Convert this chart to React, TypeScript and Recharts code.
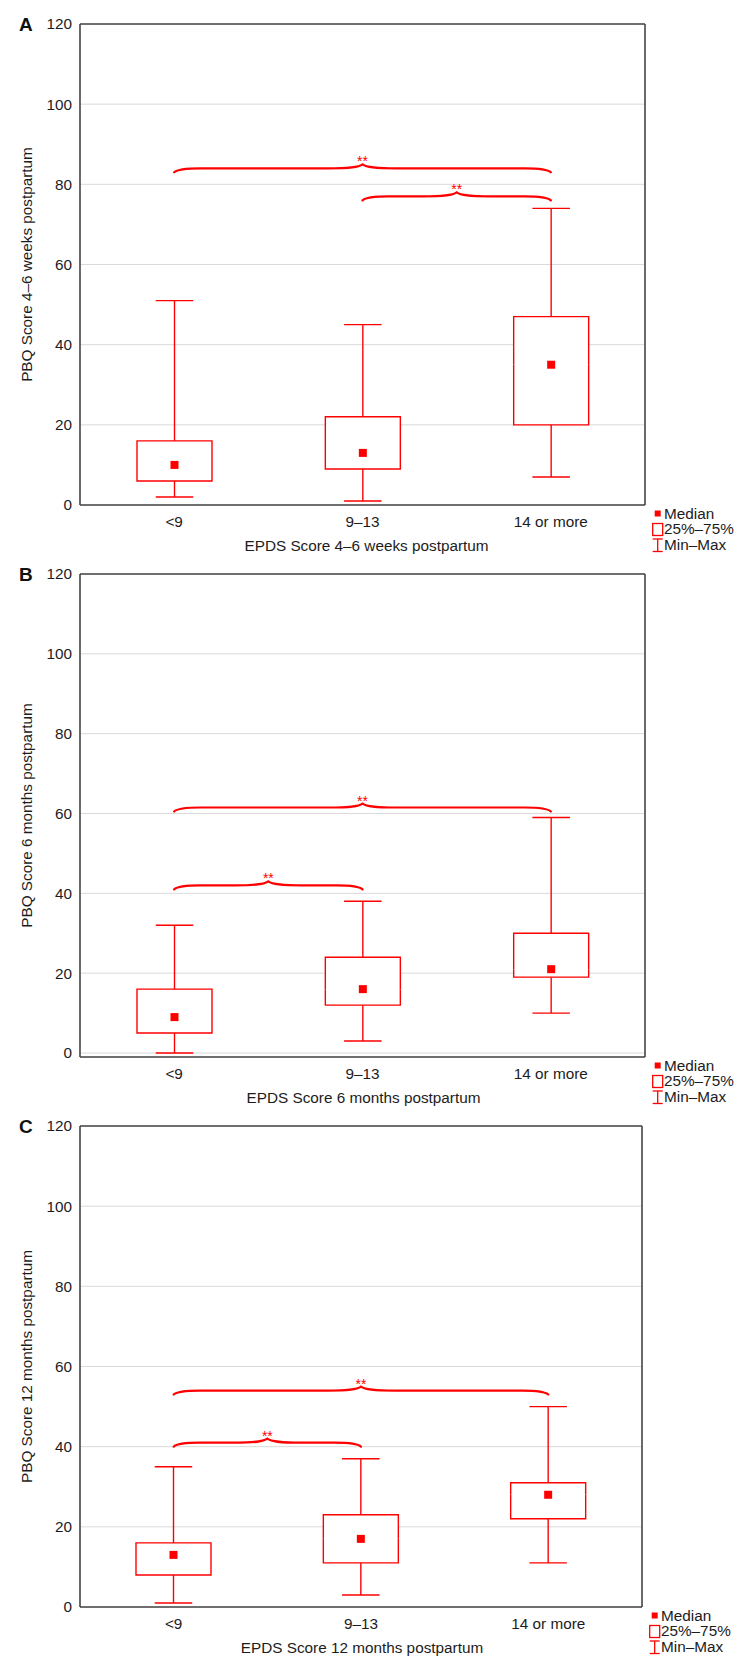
import React from 'react';
import { ComposedChart, Bar, XAxis, YAxis, CartesianGrid, ReferenceLine } from 'recharts';

const groups = ['<9', '9–13', '14 or more'];
const yTicks = [0, 20, 40, 60, 80, 100, 120];

// PBQ at 4–6 weeks postpartum, by EPDS group
const minA = [2, 1, 7];
const q1A = [6, 9, 20];
const medianA = [10, 13, 35];
const q3A = [16, 22, 47];
const maxA = [51, 45, 74];

// PBQ at 6 months postpartum
const minB = [0, 3, 10];
const q1B = [5, 12, 19];
const medianB = [9, 16, 21];
const q3B = [16, 24, 30];
const maxB = [32, 38, 59];

// PBQ at 12 months postpartum
const minC = [1, 3, 11];
const q1C = [8, 11, 22];
const medianC = [13, 17, 28];
const q3C = [16, 23, 31];
const maxC = [35, 37, 50];

// pairwise comparisons marked ** (level = score where the brace sits)
const sigA = [
  { from: '<9', to: '14 or more', level: 84 },
  { from: '9–13', to: '14 or more', level: 77 },
];
const sigB = [
  { from: '<9', to: '14 or more', level: 61.5 },
  { from: '<9', to: '9–13', level: 42 },
];
const sigC = [
  { from: '<9', to: '14 or more', level: 54 },
  { from: '<9', to: '9–13', level: 41 },
];

const RED = '#ff0000';
const INK = '#1c1c1c';
const FRAME = '#444444';
const GRID = '#dadada';
const FONT = '"Liberation Sans", Arial, Helvetica, sans-serif';
const CHART_W = 748;
const X_AXIS_H = 30;

type Row = {
  group: string;
  base: number;
  lowerWhisker: number;
  lowerBox: number;
  upperBox: number;
  upperWhisker: number;
};

type Sig = { from: string; to: string; level: number };

// stacked segments: min | min..q1 | q1..median | median..q3 | q3..max
const buildRows = (mins: number[], q1s: number[], medians: number[], q3s: number[], maxs: number[]): Row[] =>
  groups.map((group, i) => ({
    group,
    base: mins[i],
    lowerWhisker: q1s[i] - mins[i],
    lowerBox: medians[i] - q1s[i],
    upperBox: q3s[i] - medians[i],
    upperWhisker: maxs[i] - q3s[i],
  }));

const EmptyShape = () => <g />;

const LowerWhisker = (p: any) => {
  const cx = p.x + p.width / 2;
  const bottom = p.y + p.height;
  return (
    <g stroke={RED} strokeWidth={1.4}>
      <line x1={cx} x2={cx} y1={p.y} y2={bottom} />
      <line x1={cx - p.width / 4} x2={cx + p.width / 4} y1={bottom} y2={bottom} />
    </g>
  );
};

const UpperWhisker = (p: any) => {
  const cx = p.x + p.width / 2;
  return (
    <g stroke={RED} strokeWidth={1.4}>
      <line x1={cx} x2={cx} y1={p.y} y2={p.y + p.height} />
      <line x1={cx - p.width / 4} x2={cx + p.width / 4} y1={p.y} y2={p.y} />
    </g>
  );
};

// lower half of the box, open at the median
const LowerBox = (p: any) => {
  const { x, y, width: w, height: h } = p;
  return (
    <g>
      <rect x={x} y={y} width={w} height={h} fill="#fff" />
      <path d={`M${x},${y} L${x},${y + h} L${x + w},${y + h} L${x + w},${y}`} fill="none" stroke={RED} strokeWidth={1.4} />
    </g>
  );
};

// upper half of the box plus the median marker on its lower edge
const UpperBox = (p: any) => {
  const { x, y, width: w, height: h } = p;
  const cx = x + w / 2;
  return (
    <g>
      <rect x={x} y={y} width={w} height={h} fill="#fff" />
      <path d={`M${x},${y + h} L${x},${y} L${x + w},${y} L${x + w},${y + h}`} fill="none" stroke={RED} strokeWidth={1.4} />
      <rect x={cx - 4} y={y + h - 4} width={8} height={8} fill={RED} />
    </g>
  );
};

// curly brace between two group centres with the significance stars on top
const Brace = (p: any) => {
  const x1 = Math.min(p.x1, p.x2);
  const x2 = Math.max(p.x1, p.x2);
  const y = p.y1;
  const m = (x1 + x2) / 2;
  const d = [
    `M${x1},${y + 4}`,
    `C${x1 + 3},${y + 1} ${x1 + 10},${y} ${x1 + 26},${y}`,
    `L${m - 34},${y}`,
    `C${m - 12},${y} ${m - 4},${y - 1} ${m},${y - 4}`,
    `C${m + 4},${y - 1} ${m + 12},${y} ${m + 34},${y}`,
    `L${x2 - 26},${y}`,
    `C${x2 - 10},${y} ${x2 - 3},${y + 1} ${x2},${y + 4}`,
  ].join(' ');
  return (
    <g>
      <path d={d} fill="none" stroke={RED} strokeWidth={2.2} strokeLinecap="round" />
      <text x={m} y={y - 2} textAnchor="middle" fontSize={14} fill={RED} fontFamily={FONT}>
        **
      </text>
    </g>
  );
};

type PanelProps = {
  letter: string;
  yTitle: string;
  xTitle: string;
  rows: Row[];
  sig: Sig[];
  top: number;
  height: number;
  margin: { top: number; right: number; bottom: number; left: number };
  yDomain: [number, number];
  xTitleShift: number;
};

const Panel = ({ letter, yTitle, xTitle, rows, sig, top, height, margin, yDomain, xTitleShift }: PanelProps) => {
  const plotBottom = height - margin.bottom - X_AXIS_H;
  const plotRight = CHART_W - margin.right;
  const plotMid = margin.top + (plotBottom - margin.top) / 2;
  const lx = plotRight + 12.7;
  const tx = plotRight + 19;
  const r1 = plotBottom + 8.5;
  const r2 = plotBottom + 24;
  const r3 = plotBottom + 39.5;

  const renderYTitle = (props: any) => {
    const vb = props && props.viewBox;
    const cy = vb && typeof vb.y === 'number' ? vb.y + vb.height / 2 : plotMid;
    return (
      <text
        x={27}
        y={cy}
        dy={5.3}
        transform={`rotate(-90, 27, ${cy})`}
        textAnchor="middle"
        fontSize={15.3}
        fill={INK}
        fontFamily={FONT}
      >
        {yTitle}
      </text>
    );
  };

  const tickStyle = { fontSize: 15.3, fill: INK, fontFamily: FONT };

  return (
    <div style={{ position: 'absolute', left: 0, top, width: CHART_W, height }}>
      <ComposedChart width={CHART_W} height={height} data={rows} margin={margin} barSize={75}>
        <CartesianGrid horizontal vertical={false} stroke={GRID} strokeWidth={1} />
        <XAxis
          dataKey="group"
          interval={0}
          height={X_AXIS_H}
          tickLine={false}
          tickSize={6}
          tickMargin={5}
          axisLine={{ stroke: FRAME, strokeWidth: 1.6 }}
          tick={tickStyle}
          label={{ value: xTitle, position: 'bottom', offset: 5.2, dx: xTitleShift, fill: INK, fontSize: 15.3, fontFamily: FONT }}
        />
        <XAxis
          xAxisId="inner-bottom"
          dataKey="group"
          orientation="bottom"
          mirror
          interval={0}
          tick={false}
          axisLine={false}
          tickSize={3}
          tickLine={{ stroke: FRAME, strokeWidth: 1.4 }}
        />
        <XAxis
          xAxisId="top"
          dataKey="group"
          orientation="top"
          mirror
          interval={0}
          tick={false}
          tickSize={3}
          tickLine={{ stroke: FRAME, strokeWidth: 1.4 }}
          axisLine={{ stroke: FRAME, strokeWidth: 1.6 }}
        />
        <YAxis
          type="number"
          domain={yDomain}
          ticks={yTicks}
          interval={0}
          allowDataOverflow
          width={80}
          tickLine={false}
          tickSize={6}
          tickMargin={2}
          axisLine={{ stroke: FRAME, strokeWidth: 1.6 }}
          tick={tickStyle}
          label={renderYTitle}
        />
        <YAxis
          yAxisId="right"
          orientation="right"
          mirror
          type="number"
          domain={yDomain}
          ticks={yTicks}
          interval={0}
          allowDataOverflow
          tick={false}
          tickSize={3}
          tickLine={{ stroke: FRAME, strokeWidth: 1.4 }}
          axisLine={{ stroke: FRAME, strokeWidth: 1.6 }}
        />
        <Bar dataKey="base" stackId="box" isAnimationActive={false} shape={EmptyShape} />
        <Bar dataKey="lowerWhisker" stackId="box" isAnimationActive={false} shape={(p: any) => <LowerWhisker {...p} />} />
        <Bar dataKey="lowerBox" stackId="box" isAnimationActive={false} shape={(p: any) => <LowerBox {...p} />} />
        <Bar dataKey="upperBox" stackId="box" isAnimationActive={false} shape={(p: any) => <UpperBox {...p} />} />
        <Bar dataKey="upperWhisker" stackId="box" isAnimationActive={false} shape={(p: any) => <UpperWhisker {...p} />} />
        {sig.map((s, i) => (
          <ReferenceLine
            key={i}
            ifOverflow="visible"
            segment={[
              { x: s.from, y: s.level },
              { x: s.to, y: s.level },
            ]}
            shape={(p: any) => <Brace {...p} />}
          />
        ))}
      </ComposedChart>

      {/* panel letter and key */}
      <svg
        width={CHART_W}
        height={height}
        style={{ position: 'absolute', left: 0, top: 0, pointerEvents: 'none' }}
        fontFamily={FONT}
      >
        <text x={19} y={margin.top + 6.6} fontSize={19} fontWeight="bold" fill="#111">
          {letter}
        </text>
        <rect x={lx - 3} y={r1 - 3} width={6} height={6} fill={RED} />
        <text x={tx} y={r1 + 5.4} fontSize={15.3} fill={INK}>
          Median
        </text>
        <rect x={lx - 5} y={r2 - 5.5} width={10} height={12} fill="none" stroke={RED} strokeWidth={1.3} />
        <text x={tx} y={r2 + 5.4} fontSize={15.3} fill={INK}>
          25%–75%
        </text>
        <g stroke={RED} strokeWidth={1.3}>
          <line x1={lx} x2={lx} y1={r3 - 5.5} y2={r3 + 7} />
          <line x1={lx - 5} x2={lx + 5} y1={r3 - 5.5} y2={r3 - 5.5} />
          <line x1={lx - 5} x2={lx + 5} y1={r3 + 7} y2={r3 + 7} />
        </g>
        <text x={tx} y={r3 + 5.4} fontSize={15.3} fill={INK}>
          Min–Max
        </text>
      </svg>
    </div>
  );
};

const rowsA = buildRows(minA, q1A, medianA, q3A, maxA);
const rowsB = buildRows(minB, q1B, medianB, q3B, maxB);
const rowsC = buildRows(minC, q1C, medianC, q3C, maxC);

export default function App() {
  return (
    <div style={{ position: 'relative', width: 748, height: 1673, background: '#fff', fontFamily: FONT }}>
      <style>{'body { margin: 0; }'}</style>
      <Panel
        letter="A"
        yTitle="PBQ Score 4–6 weeks postpartum"
        xTitle="EPDS Score 4–6 weeks postpartum"
        rows={rowsA}
        sig={sigA}
        top={0}
        height={560}
        margin={{ top: 24, right: 103, bottom: 25, left: 0 }}
        yDomain={[0, 120]}
        xTitleShift={4}
      />
      <Panel
        letter="B"
        yTitle="PBQ Score 6 months postpartum"
        xTitle="EPDS Score 6 months postpartum"
        rows={rowsB}
        sig={sigB}
        top={560}
        height={556}
        margin={{ top: 14, right: 103, bottom: 29, left: 0 }}
        yDomain={[-1, 120]}
        xTitleShift={1}
      />
      <Panel
        letter="C"
        yTitle="PBQ Score 12 months postpartum"
        xTitle="EPDS Score 12 months postpartum"
        rows={rowsC}
        sig={sigC}
        top={1116}
        height={557}
        margin={{ top: 10, right: 106, bottom: 36, left: 0 }}
        yDomain={[0, 120]}
        xTitleShift={1}
      />
    </div>
  );
}
